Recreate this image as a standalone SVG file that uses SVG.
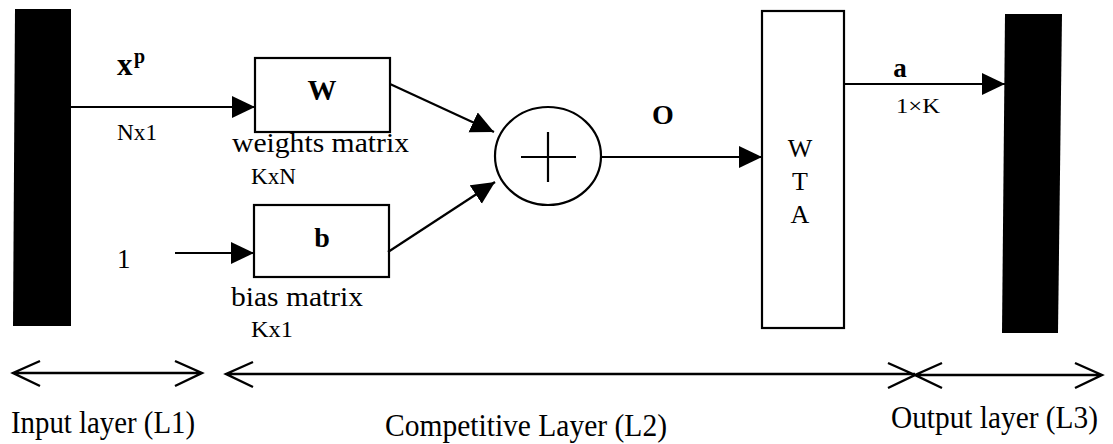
<svg xmlns="http://www.w3.org/2000/svg" width="1113" height="444" viewBox="0 0 1113 444">
<defs>
<style>
text{font-family:"Liberation Serif","Times New Roman",serif;fill:#000}
.b{font-weight:bold}
.box{fill:#fff;stroke:#000;stroke-width:2.2}
.ln{fill:none;stroke:#000;stroke-width:2.2}
.dim{fill:none;stroke:#000;stroke-width:2.4}
.bar{fill:#000}
</style>
<marker id="ah" markerUnits="userSpaceOnUse" markerWidth="24" markerHeight="24" refX="23" refY="11" orient="auto" viewBox="0 0 24 24">
<path d="M0,0 L23,11 L0,22 z" fill="#000"/>
</marker>
</defs>
<rect width="1113" height="444" fill="#fff"/>

<g id="input-layer">
<polygon class="bar" points="15,9 71,9 71,326 13,326"/>
</g>

<g id="weights">
<rect class="box" x="255" y="58" width="135" height="74"/>
<text class="b" x="322" y="100" font-size="29" text-anchor="middle">W</text>
</g>

<g id="bias">
<rect class="box" x="254" y="205" width="135" height="72"/>
<text class="b" x="322" y="247" font-size="28" text-anchor="middle">b</text>
</g>

<g id="sum">
<ellipse class="box" cx="548" cy="156" rx="53" ry="49"/>
<path class="ln" d="M521,157 H576 M548,132 V182"/>
</g>

<g id="wta">
<rect class="box" x="762" y="11" width="82" height="317"/>
<text x="800" y="157" font-size="26" text-anchor="middle">W</text>
<text x="800" y="190" font-size="26" text-anchor="middle">T</text>
<text x="800" y="223" font-size="26" text-anchor="middle">A</text>
</g>

<g id="output-layer">
<polygon class="bar" points="1005,14 1062,14 1058,333 1002,333"/>
</g>

<g id="connectors">
<line class="ln" x1="71" y1="107" x2="255" y2="107" marker-end="url(#ah)"/>
<line class="ln" x1="175" y1="253" x2="254" y2="253" marker-end="url(#ah)"/>
<line class="ln" x1="390" y1="84" x2="494" y2="132" marker-end="url(#ah)"/>
<line class="ln" x1="388" y1="252" x2="495" y2="182" marker-end="url(#ah)"/>
<line class="ln" x1="601" y1="157" x2="762" y2="157" marker-end="url(#ah)"/>
<line class="ln" x1="844" y1="84" x2="1005" y2="84" marker-end="url(#ah)"/>
</g>

<g id="labels">
<text class="b" x="117" y="75" font-size="31">x</text>
<text class="b" x="134" y="63" font-size="20">p</text>
<text x="117" y="140" font-size="24" textLength="40" lengthAdjust="spacingAndGlyphs">Nx1</text>
<text x="232" y="152" font-size="28" textLength="177" lengthAdjust="spacingAndGlyphs">weights matrix</text>
<text x="251" y="184" font-size="24" textLength="45" lengthAdjust="spacingAndGlyphs">KxN</text>
<text x="117" y="268" font-size="27">1</text>
<text x="231" y="306" font-size="28" textLength="132" lengthAdjust="spacingAndGlyphs">bias matrix</text>
<text x="251" y="337" font-size="24" textLength="42" lengthAdjust="spacingAndGlyphs">Kx1</text>
<text class="b" x="663" y="124" font-size="28" text-anchor="middle">O</text>
<text class="b" x="900" y="77" font-size="27" text-anchor="middle">a</text>
<text x="896" y="113" font-size="21" textLength="44" lengthAdjust="spacingAndGlyphs">1×K</text>
</g>

<g id="layer-spans">
<path class="dim" d="M13,373 H202 M40,361 L13,373 L40,386 M175,361 L202,373 L175,386"/>
<path class="dim" d="M226,374 H915 M253,362 L226,374 L253,387 M888,363 L915,375 L888,388"/>
<path class="dim" d="M915,375 H1102 M942,363 L915,375 L942,388 M1075,363 L1102,375 L1075,388"/>
<text x="11" y="433" font-size="32" textLength="184" lengthAdjust="spacingAndGlyphs">Input layer (L1)</text>
<text x="385" y="436" font-size="32" textLength="282" lengthAdjust="spacingAndGlyphs">Competitive Layer (L2)</text>
<text x="891" y="428" font-size="31" textLength="207" lengthAdjust="spacingAndGlyphs">Output layer (L3)</text>
</g>
</svg>
